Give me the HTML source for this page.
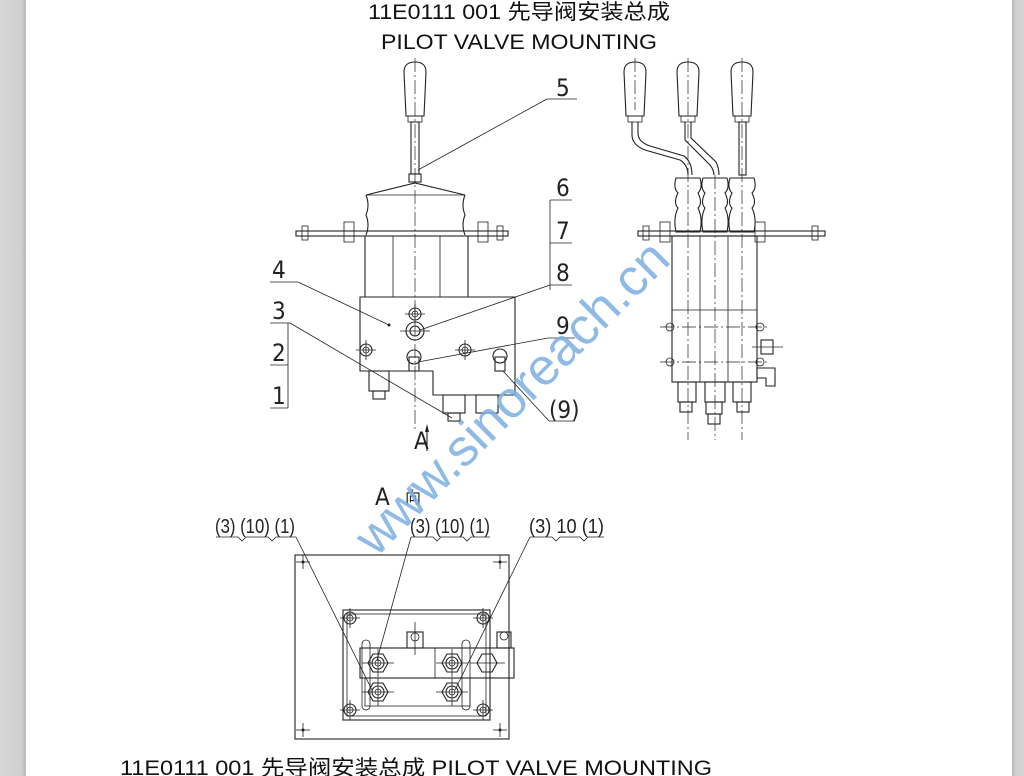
<!DOCTYPE html>
<html><head><meta charset="utf-8"><style>
html,body{margin:0;padding:0;width:1024px;height:776px;overflow:hidden;background:#fff;}
svg{display:block}
text{font-family:"Liberation Sans","Noto Sans CJK SC",sans-serif;}
.l{fill:none;stroke:#222;stroke-width:1.1}
.t{fill:none;stroke:#222;stroke-width:0.8}
.c{fill:none;stroke:#222;stroke-width:0.7;stroke-dasharray:14 3 2 3}
.n{font-family:"DejaVu Sans Condensed","Liberation Sans Narrow","Liberation Sans",sans-serif;font-size:24px;fill:#222;}
.s{font-family:"DejaVu Sans Condensed","Liberation Sans Narrow","Liberation Sans",sans-serif;font-size:20px;fill:#222;}
</style></head><body>
<svg width="1024" height="776" viewBox="0 0 1024 776" xmlns="http://www.w3.org/2000/svg">
<defs>
<linearGradient id="gl" x1="0" x2="1"><stop offset="0" stop-color="#d6d6d6"/><stop offset="0.8" stop-color="#d0d0d0"/><stop offset="1" stop-color="#b8b8b8"/></linearGradient>
<linearGradient id="gr" x1="0" x2="1"><stop offset="0" stop-color="#b8b8b8"/><stop offset="0.3" stop-color="#d0d0d0"/><stop offset="1" stop-color="#d6d6d6"/></linearGradient>
<g id="nut"><circle r="6" class="l"/><circle r="3" class="t"/><line x1="-10" y1="0" x2="10" y2="0" class="t"/><line x1="0" y1="-10" x2="0" y2="10" class="t"/></g>
<g id="hex"><polygon points="-10,0 -5,-9 5,-9 10,0 5,9 -5,9" class="l"/><circle r="6" class="l"/><circle r="3" class="t"/><line x1="-16" y1="0" x2="16" y2="0" class="t"/><line x1="0" y1="-14" x2="0" y2="14" class="t"/></g>
<g id="cross"><line x1="-7" y1="0" x2="7" y2="0" class="t"/><line x1="0" y1="-7" x2="0" y2="7" class="t"/><circle r="1.5" fill="#222"/></g>
<g id="knob"><path d="M-9,54 L-11,10 Q-11,0 0,0 Q11,0 11,10 L9,54 Z" class="l"/><rect x="-7" y="54" width="14" height="6" class="t"/></g>
</defs>
<rect x="0" y="0" width="26" height="776" fill="url(#gl)"/>
<rect x="1012" y="0" width="12" height="776" fill="url(#gr)"/>

<text x="368" y="19" font-size="21" fill="#111" textLength="302" lengthAdjust="spacingAndGlyphs">11E0111 001  先导阀安装总成</text>
<text x="381" y="49" font-size="21" fill="#111" textLength="276" lengthAdjust="spacingAndGlyphs">PILOT VALVE MOUNTING</text>

<!-- LEFT VIEW -->
<line x1="415" y1="58" x2="415" y2="430" class="c"/>
<use href="#knob" x="415" y="62"/>
<rect x="411" y="122" width="8" height="52" class="l"/>
<rect x="409" y="174" width="12" height="8" class="l"/>
<path d="M366,195 L415,183 L465,195" class="l"/>
<path d="M366,195 Q370,205 366,215 Q370,225 366,235 M465,195 Q461,205 465,215 Q461,225 465,235" class="l"/>
<line x1="366" y1="195" x2="465" y2="195" class="t"/>
<rect x="296" y="231" width="212" height="5" class="l"/>
<g class="t"><rect x="302" y="226" width="6" height="14"/><rect x="344" y="222" width="10" height="20"/><rect x="478" y="222" width="10" height="20"/><rect x="497" y="226" width="6" height="14"/></g>
<line x1="365" y1="236" x2="365" y2="297" class="l"/><line x1="468" y1="236" x2="468" y2="297" class="l"/>
<line x1="393" y1="236" x2="393" y2="297" class="t"/><line x1="440" y1="236" x2="440" y2="297" class="t"/>
<path d="M360,297 H515 V395 H433 V371 H360 Z" class="l"/>
<use href="#nut" x="415" y="314"/>
<use href="#nut" x="366" y="350"/>
<use href="#nut" x="465" y="350"/>
<circle cx="415" cy="331" r="9" class="l"/><circle cx="415" cy="331" r="5" class="l"/>
<line x1="400" y1="331" x2="430" y2="331" class="t"/>
<circle cx="414" cy="357" r="7" class="l"/><rect x="409" y="357" width="10" height="14" class="l"/>
<circle cx="500" cy="356" r="7" class="l"/><rect x="495" y="357" width="10" height="14" class="l"/>
<rect x="369" y="371" width="20" height="20" class="l"/><rect x="373" y="391" width="12" height="8" class="l"/>
<rect x="443" y="395" width="22" height="18" class="l"/><rect x="448" y="413" width="12" height="8" class="l"/>
<rect x="476" y="395" width="22" height="18" class="l"/>
<circle cx="389" cy="325" r="1.5" fill="#222"/>
<g class="t">
<line x1="547" y1="99" x2="577" y2="99"/><line x1="547" y1="99" x2="418" y2="170"/>
<line x1="550" y1="200" x2="550" y2="290"/>
<line x1="550" y1="200" x2="572" y2="200"/><line x1="550" y1="243" x2="572" y2="243"/><line x1="550" y1="285" x2="572" y2="285"/>
<line x1="550" y1="285" x2="420" y2="330"/>
<line x1="548" y1="338" x2="575" y2="338"/><line x1="548" y1="338" x2="418" y2="362"/>
<line x1="270" y1="282" x2="298" y2="282"/><line x1="298" y1="282" x2="389" y2="325"/>
<line x1="270" y1="323" x2="290" y2="323"/><line x1="290" y1="323" x2="452" y2="418"/>
<line x1="288" y1="323" x2="288" y2="408"/>
<line x1="270" y1="365" x2="288" y2="365"/><line x1="270" y1="408" x2="288" y2="408"/>
<line x1="549" y1="421" x2="575" y2="421"/><line x1="549" y1="421" x2="503" y2="371"/>
</g>
<text class="n" x="556" y="96">5</text>
<text class="n" x="556" y="196">6</text>
<text class="n" x="556" y="239">7</text>
<text class="n" x="556" y="281">8</text>
<text class="n" x="556" y="334">9</text>
<text class="n" x="272" y="278">4</text>
<text class="n" x="272" y="319">3</text>
<text class="n" x="272" y="361">2</text>
<text class="n" x="272" y="404">1</text>
<text class="n" x="549" y="418">(9)</text>
<text class="n" x="414" y="449" font-size="20">A</text>
<line x1="427" y1="430" x2="427" y2="451" class="l"/><path d="M427,424 L425,432 L429,432Z" fill="#222"/>
<text class="n" x="375" y="505" font-size="20">A</text>
<text x="405" y="503" font-size="16" fill="#222">向</text>

<!-- RIGHT VIEW -->
<line x1="635" y1="58" x2="635" y2="110" class="c"/>
<line x1="688" y1="58" x2="688" y2="440" class="c"/>
<line x1="742" y1="58" x2="742" y2="440" class="c"/>
<line x1="715" y1="175" x2="715" y2="440" class="c"/>
<use href="#knob" x="635" y="62"/><use href="#knob" x="688" y="62"/><use href="#knob" x="742" y="62"/>
<path d="M632,122 V135 Q632,145 645,150 L680,160 Q688,165 688,175 M638,122 V133 Q638,142 650,146 L684,156 Q692,162 692,175" class="l"/>
<path d="M685,122 V140 L710,165 Q714,170 714,175 M691,122 V138 L716,162 Q719,168 719,175" class="l"/>
<rect x="739" y="122" width="7" height="53" class="l"/>
<g class="l">
<path d="M676,178 H700 Q703,188 698,193 Q703,203 698,208 Q703,218 700,232 H676 Q673,218 678,208 Q673,203 678,193 Q673,188 676,178Z"/>
<path d="M703,178 H727 Q730,188 725,193 Q730,203 725,208 Q730,218 727,232 H703 Q700,218 705,208 Q700,203 705,193 Q700,188 703,178Z"/>
<path d="M730,178 H754 Q757,188 752,193 Q757,203 752,208 Q757,218 754,232 H730 Q727,218 732,208 Q727,203 732,193 Q727,188 730,178Z"/>
</g>
<rect x="638" y="231" width="187" height="5" class="l"/>
<g class="t"><rect x="643" y="226" width="6" height="14"/><rect x="660" y="222" width="10" height="20"/><rect x="755" y="222" width="10" height="20"/><rect x="812" y="226" width="6" height="14"/></g>
<rect x="672" y="236" width="85" height="146" class="l"/>
<line x1="700" y1="236" x2="700" y2="382" class="t"/><line x1="728" y1="236" x2="728" y2="382" class="t"/>
<line x1="672" y1="310" x2="757" y2="310" class="t"/>
<line x1="660" y1="327" x2="770" y2="327" class="c"/>
<line x1="660" y1="362" x2="770" y2="362" class="c"/>
<g class="t"><circle cx="670" cy="327" r="4"/><circle cx="760" cy="327" r="4"/><circle cx="670" cy="362" r="4"/><circle cx="760" cy="362" r="4"/></g>
<rect x="761" y="340" width="12" height="14" class="l"/><line x1="752" y1="347" x2="783" y2="347" class="t"/>
<path d="M757,368 H775 V386 H766 V378 H757 Z" class="l"/>
<g class="l"><rect x="678" y="382" width="18" height="20"/><rect x="680" y="402" width="12" height="10"/>
<rect x="705" y="382" width="20" height="20"/><rect x="706" y="402" width="16" height="12"/><rect x="708" y="414" width="12" height="10"/>
<rect x="733" y="382" width="18" height="20"/><rect x="737" y="402" width="12" height="10"/></g>

<!-- BOTTOM VIEW -->
<g class="s">
<text x="215" y="533" textLength="80" lengthAdjust="spacingAndGlyphs">(3) (10) (1)</text>
<text x="410" y="533" textLength="80" lengthAdjust="spacingAndGlyphs">(3) (10) (1)</text>
<text x="529" y="533" textLength="75" lengthAdjust="spacingAndGlyphs">(3)  10  (1)</text>
</g>
<g class="t">
<path d="M216,537 H238 l4,4 l4,-4 H268 l4,4 l4,-4 H296"/>
<path d="M411,537 H433 l4,4 l4,-4 H463 l4,4 l4,-4 H490"/>
<path d="M530,537 H552 l4,4 l4,-4 H580 l4,4 l4,-4 H604"/>
<line x1="296" y1="537" x2="372" y2="690"/>
<line x1="411" y1="537" x2="377" y2="660"/>
<line x1="530" y1="537" x2="455" y2="690"/>
</g>
<rect x="295" y="555" width="214" height="184" class="l"/>
<use href="#cross" x="303" y="562"/><use href="#cross" x="500" y="562"/><use href="#cross" x="303" y="730"/><use href="#cross" x="500" y="730"/>
<rect x="343" y="610" width="147" height="110" class="l"/>
<rect x="347" y="614" width="139" height="102" class="t"/>
<use href="#nut" x="350" y="618"/><use href="#nut" x="483" y="618"/><use href="#nut" x="350" y="710"/><use href="#nut" x="483" y="710"/>
<rect x="360" y="648" width="154" height="30" class="l"/>
<line x1="435" y1="648" x2="435" y2="678" class="t"/>
<rect x="365" y="678" width="105" height="28" class="t"/>
<use href="#hex" x="378" y="663"/><use href="#hex" x="452" y="663"/><use href="#hex" x="378" y="692"/><use href="#hex" x="452" y="692"/>
<polygon points="477,663 482,654 492,654 497,663 492,672 482,672" class="l"/>
<line x1="470" y1="663" x2="505" y2="663" class="t"/>
<rect x="407" y="632" width="16" height="16" class="l"/><circle cx="415" cy="637" r="4" class="t"/>
<line x1="415" y1="622" x2="415" y2="655" class="t"/>
<rect x="497" y="632" width="14" height="16" class="l"/><circle cx="504" cy="636" r="4" class="t"/>
<rect x="362" y="640" width="8" height="70" rx="4" class="t"/><rect x="462" y="640" width="8" height="70" rx="4" class="t"/>

<text x="120" y="775" font-size="21" fill="#111" textLength="592" lengthAdjust="spacingAndGlyphs">11E0111 001  先导阀安装总成  PILOT VALVE MOUNTING</text>

<!-- watermark -->
<text x="0" y="0" transform="translate(376,558) rotate(-45)" font-size="52" fill="#7aaee0" fill-opacity="0.85" style="font-family:'Liberation Sans',sans-serif">www.sinoreach.cn</text>
</svg>
</body></html>
